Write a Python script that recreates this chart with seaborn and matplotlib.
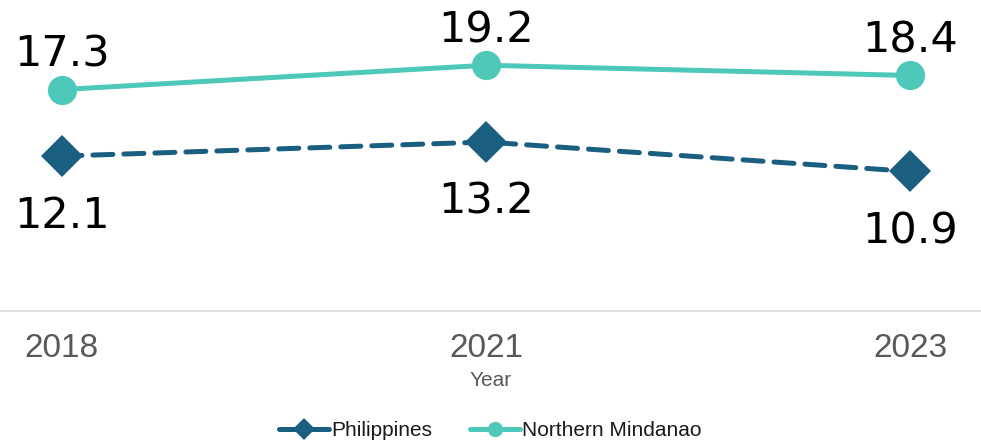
import seaborn as sns
import matplotlib.pyplot as plt
import pandas as pd
from matplotlib.lines import Line2D

# data
years = ["2018", "2021", "2023"]
philippines = [12.1, 13.2, 10.9]
northern_mindanao = [17.3, 19.2, 18.4]

df = pd.DataFrame({
    "Year": years * 2,
    "value": philippines + northern_mindanao,
    "series": ["Philippines"] * 3 + ["Northern Mindanao"] * 3,
})

sns.set_theme(style="white")
plt.rcParams["font.family"] = ["Liberation Sans", "DejaVu Sans"]

colors = {"Philippines": "#1a5e80", "Northern Mindanao": "#4ec9b9"}

fig = plt.figure(figsize=(9.81, 4.41), dpi=100)
ax = fig.add_axes([0, 0.295, 1, 0.705])

sns.lineplot(data=df, x="Year", y="value", hue="series", style="series",
             palette=colors, markers={"Philippines": "D", "Northern Mindanao": "o"},
             dashes={"Philippines": (4, 2.2), "Northern Mindanao": ""},
             markersize=21, linewidth=3.6, markeredgewidth=0, ax=ax, legend=False)
for line in ax.lines:
    line.set_dash_capstyle("round")

# data labels
for i, v in enumerate(northern_mindanao):
    ax.annotate(f"{v}", (i, v), xytext=(0, 25), textcoords="offset points",
                ha="center", va="center", fontsize=31, color="black",
                family="DejaVu Sans")
for i, v in enumerate(philippines):
    ax.annotate(f"{v}", (i, v), xytext=(0, -43), textcoords="offset points",
                ha="center", va="center", fontsize=31, color="black",
                family="DejaVu Sans")

ax.set_xlim(-0.146, 2.167)
ax.set_ylim(0, 24.3)
ax.set_yticks([])
ax.set_ylabel("")
ax.set_xlabel("Year", fontsize=15, color="#595959", labelpad=5)
ax.tick_params(axis="x", labelsize=24, labelcolor="#595959", length=0, pad=16)

for s in ["top", "right", "left"]:
    ax.spines[s].set_visible(False)
ax.spines["bottom"].set_color("#d9d9d9")
ax.spines["bottom"].set_linewidth(1.2)

# legend at the bottom
handles = [
    Line2D([], [], color=colors["Philippines"], lw=3.6, marker="D", markersize=11,
           markeredgewidth=0),
    Line2D([], [], color=colors["Northern Mindanao"], lw=3.6, marker="o", markersize=11,
           markeredgewidth=0),
]
fig.legend(handles, ["Philippines", "Northern Mindanao"], loc="lower center",
           bbox_to_anchor=(0.5, -0.04), ncol=2, frameon=False, fontsize=15,
           labelcolor="#1a1a1a", handlelength=2.4, handletextpad=0.1,
           columnspacing=1.8)

fig.savefig("out.png", dpi=100)
